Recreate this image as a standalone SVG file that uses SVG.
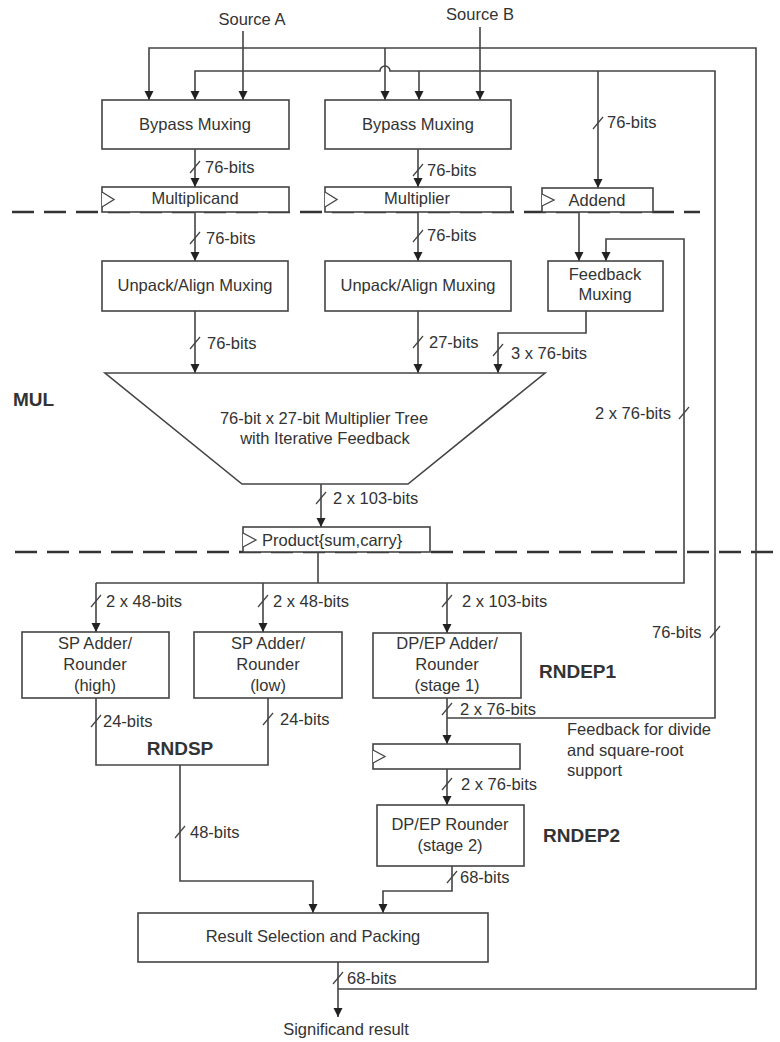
<svg xmlns="http://www.w3.org/2000/svg" width="780" height="1042" viewBox="0 0 780 1042">
<style>
.bx{fill:#fff;stroke:#444;stroke-width:1.6}
.ln{fill:none;stroke:#444;stroke-width:1.6}
.sl{fill:none;stroke:#444;stroke-width:1.2}
.ds{fill:none;stroke:#333;stroke-width:2.5;stroke-dasharray:22 10}
.t{font-family:"Liberation Sans",Arial,sans-serif;font-size:16.5px;fill:#333}
.m{text-anchor:middle}
.b{font-family:"Liberation Sans",Arial,sans-serif;font-size:19px;font-weight:bold;fill:#333}
.tri{fill:#fff;stroke:#444;stroke-width:1.3}
</style>
<defs>
<marker id="ar" viewBox="0 0 10 10" refX="10" refY="5" markerWidth="9" markerHeight="10" markerUnits="userSpaceOnUse" orient="auto">
<path d="M0,0 L10,5 L0,10 z" fill="#222"/>
</marker>
</defs>
<rect width="780" height="1042" fill="#fff"/>

<g id="dashed">
<path class="ds" d="M12,212 H700"/>
<path class="ds" d="M15,552 H780"/>
</g>

<g id="connectors">
<path class="ln" d="M243,31 V100" marker-end="url(#ar)"/>
<path class="ln" d="M480,27 V100" marker-end="url(#ar)"/>
<path class="ln" d="M338,989 H756 V48 H149 V100" marker-end="url(#ar)"/>
<path class="ln" d="M385,48 V100" marker-end="url(#ar)"/>
<path class="ln" d="M447,718 H715 V71 H390 A5,5 0 0 0 380,71 H195 V100" marker-end="url(#ar)"/>
<path class="ln" d="M419,71 V100" marker-end="url(#ar)"/>
<path class="ln" d="M598,71 V188" marker-end="url(#ar)"/>
<path class="ln" d="M195,149 V187" marker-end="url(#ar)"/>
<path class="ln" d="M418,149 V187" marker-end="url(#ar)"/>
<path class="ln" d="M195,212 V261" marker-end="url(#ar)"/>
<path class="ln" d="M418,212 V261" marker-end="url(#ar)"/>
<path class="ln" d="M579,212 V261" marker-end="url(#ar)"/>
<path class="ln" d="M195,311 V373" marker-end="url(#ar)"/>
<path class="ln" d="M418,311 V373" marker-end="url(#ar)"/>
<path class="ln" d="M586,311 V333 H498 V373" marker-end="url(#ar)"/>
<path class="ln" d="M321,484 V527" marker-end="url(#ar)"/>
<path class="ln" d="M318,552 V583"/>
<path class="ln" d="M96,583 H684 V239 H606 V261" marker-end="url(#ar)"/>
<path class="ln" d="M96,583 V632" marker-end="url(#ar)"/>
<path class="ln" d="M263,583 V632" marker-end="url(#ar)"/>
<path class="ln" d="M447,583 V633" marker-end="url(#ar)"/>
<path class="ln" d="M96,698 V765 H268 V698"/>
<path class="ln" d="M180,765 V881 H313 V913" marker-end="url(#ar)"/>
<path class="ln" d="M447,698 V744" marker-end="url(#ar)"/>
<path class="ln" d="M447,769 V805" marker-end="url(#ar)"/>
<path class="ln" d="M452,866 V891 H383 V913" marker-end="url(#ar)"/>
<path class="ln" d="M338,962 V1017" marker-end="url(#ar)"/>
<path class="sl" d="M190,173 L200,161 M413,176 L423,164 M593,129 L603,117 M190,244 L200,232 M413,242 L423,230 M190,349 L200,337 M413,348 L423,336 M493,356 L503,344 M679,419 L689,407 M316,504 L326,492 M91,607 L101,595 M258,607 L268,595 M442,607 L452,595 M710,638 L720,626 M91,727 L101,715 M263,725 L273,713 M442,715 L452,703 M442,790 L452,778 M175,838 L185,826 M447,883 L457,871 M333,984 L343,972"/>
</g>

<g id="labels">
<text class="t m" x="252" y="25">Source A</text>
<text class="t m" x="480" y="20">Source B</text>
<text class="t" x="205" y="173">76-bits</text>
<text class="t" x="427" y="176">76-bits</text>
<text class="t" x="607" y="128">76-bits</text>
<text class="t" x="206" y="244">76-bits</text>
<text class="t" x="427" y="241">76-bits</text>
<text class="t" x="207" y="349">76-bits</text>
<text class="t" x="429" y="348">27-bits</text>
<text class="t" x="511" y="359">3 x 76-bits</text>
<text class="t" x="595" y="419">2 x 76-bits</text>
<text class="t" x="333" y="504">2 x 103-bits</text>
<text class="t" x="106" y="607">2 x 48-bits</text>
<text class="t" x="273" y="607">2 x 48-bits</text>
<text class="t" x="462" y="607">2 x 103-bits</text>
<text class="t" x="652" y="638">76-bits</text>
<text class="t" x="103" y="727">24-bits</text>
<text class="t" x="280" y="725">24-bits</text>
<text class="t" x="460" y="715">2 x 76-bits</text>
<text class="t" x="567" y="735">Feedback for divide</text>
<text class="t" x="567" y="756">and square-root</text>
<text class="t" x="567" y="776">support</text>
<text class="t" x="461" y="790">2 x 76-bits</text>
<text class="t" x="190" y="838">48-bits</text>
<text class="t" x="460" y="883">68-bits</text>
<text class="t" x="347" y="984">68-bits</text>
<text class="t m" x="346" y="1035">Significand result</text>
<text class="b" x="13" y="406">MUL</text>
<text class="b m" x="180" y="755">RNDSP</text>
<text class="b" x="539" y="678">RNDEP1</text>
<text class="b" x="543" y="842">RNDEP2</text>
</g>

<g id="bypass1"><rect class="bx" x="102" y="100" width="187" height="49"/><text class="t m" x="195" y="130">Bypass Muxing</text></g>
<g id="bypass2"><rect class="bx" x="325" y="100" width="186" height="49"/><text class="t m" x="418" y="130">Bypass Muxing</text></g>
<g id="multiplicand"><rect class="bx" x="102" y="187" width="187" height="25"/><path class="tri" d="M102,192 L114,199.5 L102,207"/><text class="t m" x="195" y="204">Multiplicand</text></g>
<g id="multiplier"><rect class="bx" x="325" y="187" width="186" height="25"/><path class="tri" d="M325,192 L337,199.5 L325,207"/><text class="t m" x="417" y="204">Multiplier</text></g>
<g id="addend"><rect class="bx" x="542" y="188" width="111" height="24"/><path class="tri" d="M542,194 L554,200 L542,206"/><text class="t m" x="597" y="206">Addend</text></g>
<g id="unpack1"><rect class="bx" x="102" y="261" width="186" height="50"/><text class="t m" x="195" y="291">Unpack/Align Muxing</text></g>
<g id="unpack2"><rect class="bx" x="325" y="261" width="186" height="50"/><text class="t m" x="418" y="291">Unpack/Align Muxing</text></g>
<g id="feedbackmux"><rect class="bx" x="548" y="261" width="115" height="50"/><text class="t m" x="605" y="280">Feedback</text><text class="t m" x="605" y="300">Muxing</text></g>
<g id="tree"><path class="bx" d="M105,373 H545 L408,484 H242 Z"/><text class="t m" x="324" y="424">76-bit x 27-bit Multiplier Tree</text><text class="t m" x="325" y="444">with Iterative Feedback</text></g>
<g id="product"><rect class="bx" x="243" y="527" width="187" height="25"/><path class="tri" d="M243,533 L256,540 L243,547"/><text class="t" x="262" y="546">Product{sum,carry}</text></g>
<g id="sphigh"><rect class="bx" x="22" y="632" width="147" height="66"/><text class="t m" x="95" y="649">SP Adder/</text><text class="t m" x="95" y="670">Rounder</text><text class="t m" x="95" y="691">(high)</text></g>
<g id="splow"><rect class="bx" x="194" y="632" width="148" height="66"/><text class="t m" x="268" y="649">SP Adder/</text><text class="t m" x="268" y="670">Rounder</text><text class="t m" x="268" y="691">(low)</text></g>
<g id="dpep1"><rect class="bx" x="373" y="633" width="148" height="65"/><text class="t m" x="447" y="649">DP/EP Adder/</text><text class="t m" x="447" y="670">Rounder</text><text class="t m" x="447" y="691">(stage 1)</text></g>
<g id="reg"><rect class="bx" x="373" y="744" width="147" height="25"/><path class="tri" d="M373,750 L385,756.5 L373,763"/></g>
<g id="dpep2"><rect class="bx" x="377" y="805" width="147" height="61"/><text class="t m" x="450" y="830">DP/EP Rounder</text><text class="t m" x="450" y="851">(stage 2)</text></g>
<g id="result"><rect class="bx" x="138" y="913" width="350" height="49"/><text class="t m" x="313" y="942">Result Selection and Packing</text></g>
</svg>
